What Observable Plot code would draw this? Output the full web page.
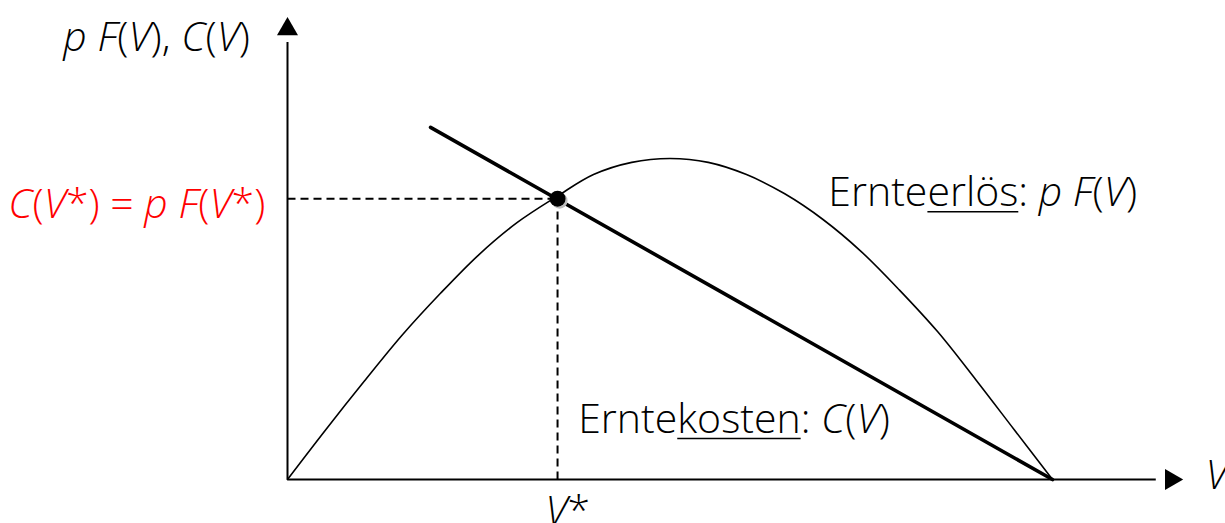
<!DOCTYPE html>
<html>
<head>
<meta charset="utf-8">
<script src="https://cdn.jsdelivr.net/npm/d3@7"></script>
<script src="https://cdn.jsdelivr.net/npm/@observablehq/plot@0.6"></script>
<style>
  html, body { margin: 0; padding: 0; background: #fff; }
</style>
</head>
<body>
<div id="chart"></div>
<script>
// Revenue curve p F(V) (V and value in relative units, 0..100)
const revenueV = [0, 5, 10, 15, 20, 25, 30, 35.3, 40, 45, 50, 55, 60, 65, 70, 75, 80, 85, 90, 95, 100];
const revenueF = [0, 15.5, 30.5, 45, 58, 70, 80, 88.3, 95, 98.8, 100, 98.8, 95, 89, 81, 71, 59, 46, 31, 15.5, 0];
// Cost line C(V)
const costV = [18.7, 100];
const costC = [109.7, 0];
// Equilibrium point V*
const vStar = [35.3];
const cStar = [87.5];
// Axis extents (arrow tips)
const axisXEnd = 115.5;
const axisYEnd = 140.3;

// Rich labels: segments [text, italic, underline]
const labels = [
  {x: -29.3, y: 137.7, anchor: "start", color: "#000",
   parts: [["p F", 1], ["(", 0], ["V", 1], ["), ", 0], ["C", 1], ["(", 0], ["V", 1], [")", 0]]},
  {x: -2.9, y: 85.6, anchor: "end", color: "#ff0000",
   parts: [["C", 1], ["(", 0], ["V", 1], ["*) = ", 0], ["p F", 1], ["(", 0], ["V", 1], ["*)", 0]]},
  {x: 70.7, y: 89.4, anchor: "start", color: "#000",
   parts: [["Ernte", 0], ["erlös", 0, 1], [": ", 0], ["p F", 1], ["(", 0], ["V", 1], [")", 0]]},
  {x: 38.0, y: 18.7, anchor: "start", color: "#000",
   parts: [["Ernte", 0], ["kosten", 0, 1], [": ", 0], ["C", 1], ["(", 0], ["V", 1], [")", 0]]},
  {x: 33.7, y: -10.0, anchor: "start", color: "#000",
   parts: [["V", 1], ["*", 0]]},
  {x: 120.0, y: 1.2, anchor: "start", color: "#000",
   parts: [["V", 1]]}
];
labels.forEach(l => l.text = l.parts.map(p => p[0]).join(""));

const revenue = revenueV.map((v, i) => ({v, f: revenueF[i]}));
const cost = costV.map((v, i) => ({v, c: costC[i]}));
const star = vStar.map((v, i) => ({v, c: cStar[i]}));

const fontSize = 41;
const textOpts = {x: "x", y: "y", text: "text", fill: "color", fontSize, fontFamily: "Open Sans", fontWeight: 300};
const chart = Plot.plot({
  width: 1225,
  height: 523,
  margin: 0,
  x: {domain: [0, 100], range: [287, 1052], axis: null},
  y: {domain: [0, 100], range: [479, 158], axis: null},
  style: {background: "#fff", fontFamily: "Open Sans"},
  marks: [
    // axes
    Plot.link([{x1: 0, y1: 0, x2: 0, y2: axisYEnd - 4}], {x1: "x1", y1: "y1", x2: "x2", y2: "y2", stroke: "#000", strokeWidth: 2}),
    Plot.link([{x1: 0, y1: 0, x2: axisXEnd - 2, y2: 0}], {x1: "x1", y1: "y1", x2: "x2", y2: "y2", stroke: "#000", strokeWidth: 2}),
    Plot.dot([{x: 0, y: axisYEnd}], {x: "x", y: "y", symbol: "triangle", r: 7.8, fill: "#000", stroke: "none"}),
    Plot.dot([{x: axisXEnd, y: 0}], {x: "x", y: "y", symbol: "triangle", r: 7.8, rotate: 90, fill: "#000", stroke: "none"}),
    // dashed guides
    Plot.link(star, {x1: 0, y1: "c", x2: "v", y2: "c", stroke: "#000", strokeWidth: 2, strokeDasharray: "8,5"}),
    Plot.link(star, {x1: "v", y1: 0, x2: "v", y2: "c", stroke: "#000", strokeWidth: 2, strokeDasharray: "8,5"}),
    // revenue curve
    Plot.line(revenue, {x: "v", y: "f", curve: "catmull-rom", stroke: "#000", strokeWidth: 1.6}),
    // cost line
    Plot.line(cost, {x: "v", y: "c", stroke: "#000", strokeWidth: 3.6}),
    // equilibrium dot with shadow
    Plot.dot(star, {x: "v", y: "c", r: 8, fill: "#bdbdbd", stroke: "none", dx: 2, dy: 2}),
    Plot.dot(star, {x: "v", y: "c", r: 8, fill: "#000", stroke: "none"}),
    // labels
    Plot.text(labels.filter(l => l.anchor === "start"), {...textOpts, textAnchor: "start"}),
    Plot.text(labels.filter(l => l.anchor === "end"), {...textOpts, textAnchor: "end"})
  ]
});

// turn plain label text into rich text (italic / underline segments)
const byText = new Map(labels.map(l => [l.text, l]));
const underlines = [];
chart.querySelectorAll("text").forEach(t => {
  const l = byText.get(t.textContent);
  if (!l) return;
  t.textContent = "";
  let pos = 0;
  for (const [s, it, ul] of l.parts) {
    const ts = document.createElementNS("http://www.w3.org/2000/svg", "tspan");
    ts.textContent = s;
    if (it) ts.setAttribute("font-style", "italic");
    ts.setAttribute("font-weight", "300");
    ts.setAttribute("style", "white-space: pre");
    t.appendChild(ts);
    if (ul) underlines.push({t, from: pos, to: pos + s.length - 1});
    pos += s.length;
  }
  t.setAttribute("style", "white-space: pre");
});

document.getElementById("chart").appendChild(chart);

// draw thin underlines under the marked segments (measured from the laid-out text)
for (const {t, from, to} of underlines) {
  const a = t.getStartPositionOfChar(from);
  const b = t.getEndPositionOfChar(to);
  const line = document.createElementNS("http://www.w3.org/2000/svg", "line");
  line.setAttribute("x1", a.x);
  line.setAttribute("x2", b.x);
  line.setAttribute("y1", a.y + 6);
  line.setAttribute("y2", a.y + 6);
  line.setAttribute("stroke", "#000");
  line.setAttribute("stroke-width", "1.5");
  if (t.getAttribute("transform")) line.setAttribute("transform", t.getAttribute("transform"));
  t.parentNode.appendChild(line);
}
</script>
</body>
</html>
